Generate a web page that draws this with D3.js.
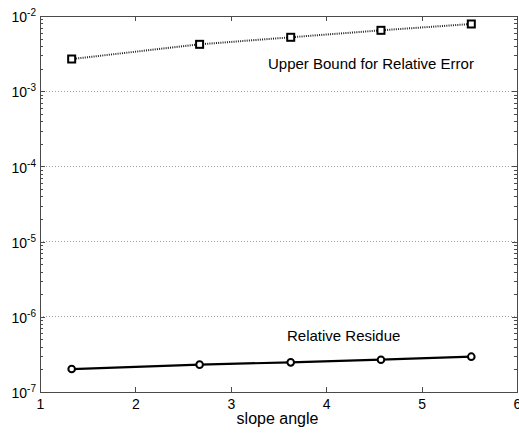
<!DOCTYPE html>
<html>
<head>
<meta charset="utf-8">
<script src="https://cdn.jsdelivr.net/npm/d3@7"></script>
<style>
  html, body { margin: 0; padding: 0; background: #fff; }
  svg { display: block; font-family: "Liberation Sans", Arial, Helvetica, sans-serif; }
</style>
</head>
<body>
<svg id="chart" width="519" height="439"></svg>
<script>
// Slope angle samples
const slopeAngle = [1.332, 2.673, 3.628, 4.574, 5.521];
// Upper bound for the relative error at each slope angle
const upperBound = [2.68e-3, 4.2e-3, 5.21e-3, 6.45e-3, 7.83e-3];
// Relative residue at each slope angle
const relResidue = [2.02e-7, 2.31e-7, 2.48e-7, 2.69e-7, 2.95e-7];
// Axis ticks
const xTicks = [1, 2, 3, 4, 5, 6];
const yExponents = [-7, -6, -5, -4, -3, -2];
const xLabel = "slope angle";
const upperLabel = "Upper Bound for Relative Error";
const residueLabel = "Relative Residue";

const svg = d3.select("#chart");
const plotLeft = 40, plotRight = 517, plotTop = 16, plotBottom = 392;

const x = d3.scaleLinear().domain([1, 6]).range([plotLeft, plotRight]);
const y = d3.scaleLog().domain([1e-7, 1e-2]).range([plotBottom, plotTop]);

const yMajor = yExponents.map(e => Math.pow(10, e));
const yMinor = [];
yExponents.slice(0, -1).forEach(e => {
  for (let m = 2; m <= 9; m++) yMinor.push(m * Math.pow(10, e));
});

const axisColor = "#4a4a4a";

// Horizontal grid at each decade
svg.append("g")
  .selectAll("line")
  .data(yMajor.slice(1, -1))
  .join("line")
  .attr("x1", plotLeft).attr("x2", plotRight)
  .attr("y1", d => y(d)).attr("y2", d => y(d))
  .attr("stroke", "#a0a0a0")
  .attr("stroke-width", 1)
  .attr("stroke-dasharray", "1,2")
  .attr("shape-rendering", "crispEdges");

function styleAxis(g) {
  g.select(".domain").remove();
  g.selectAll(".tick line").attr("stroke", axisColor).attr("shape-rendering", "crispEdges");
}

// Bottom axis with labels
svg.append("g")
  .attr("transform", `translate(0,${plotBottom})`)
  .call(d3.axisBottom(x).tickValues(xTicks).tickSize(-5).tickPadding(7).tickFormat(d3.format("d")))
  .call(styleAxis)
  .call(g => g.selectAll("text").attr("font-size", 14).attr("fill", "#000").attr("font-family", "Liberation Sans, Arial, sans-serif"));

// Top axis, ticks only
svg.append("g")
  .attr("transform", `translate(0,${plotTop})`)
  .call(d3.axisTop(x).tickValues(xTicks).tickSize(-5).tickFormat(""))
  .call(styleAxis);

// Left axis: major decades with power-of-ten labels
const leftAxis = svg.append("g")
  .attr("transform", `translate(${plotLeft},0)`)
  .call(d3.axisLeft(y).tickValues(yMajor).tickSize(-5).tickPadding(4).tickFormat(""))
  .call(styleAxis);

leftAxis.selectAll(".tick").each(function (d) {
  const t = d3.select(this).select("text")
    .attr("font-size", 14)
    .attr("fill", "#000")
    .attr("font-family", "Liberation Sans, Arial, sans-serif")
    .attr("dy", "0.4em");
  t.text(null);
  t.append("tspan").text("10");
  t.append("tspan").attr("font-size", 10).attr("dy", "-0.6em").text(String(Math.round(Math.log10(d))));
});

// Left minor ticks
svg.append("g")
  .attr("transform", `translate(${plotLeft},0)`)
  .call(d3.axisLeft(y).tickValues(yMinor).tickSize(-3).tickFormat(""))
  .call(styleAxis);

// Right axis major + minor ticks
svg.append("g")
  .attr("transform", `translate(${plotRight},0)`)
  .call(d3.axisRight(y).tickValues(yMajor).tickSize(-5).tickFormat(""))
  .call(styleAxis);
svg.append("g")
  .attr("transform", `translate(${plotRight},0)`)
  .call(d3.axisRight(y).tickValues(yMinor).tickSize(-3).tickFormat(""))
  .call(styleAxis);

// Axes box
svg.append("rect")
  .attr("x", plotLeft).attr("y", plotTop)
  .attr("width", plotRight - plotLeft).attr("height", plotBottom - plotTop)
  .attr("fill", "none")
  .attr("stroke", axisColor)
  .attr("stroke-width", 1)
  .attr("shape-rendering", "crispEdges");

const upperData = slopeAngle.map((a, i) => [a, upperBound[i]]);
const residueData = slopeAngle.map((a, i) => [a, relResidue[i]]);
const line = d3.line().x(d => x(d[0])).y(d => y(d[1]));

// Upper bound: dotted line with square markers
svg.append("path")
  .datum(upperData)
  .attr("d", line)
  .attr("fill", "none")
  .attr("stroke", "#222")
  .attr("stroke-width", 2)
  .attr("stroke-dasharray", "1,1.2");

svg.append("g")
  .selectAll("rect")
  .data(upperData)
  .join("rect")
  .attr("x", d => x(d[0]) - 3.5)
  .attr("y", d => y(d[1]) - 3.5)
  .attr("width", 7).attr("height", 7)
  .attr("fill", "#fff")
  .attr("stroke", "#000")
  .attr("stroke-width", 2);

// Relative residue: solid line with circle markers
svg.append("path")
  .datum(residueData)
  .attr("d", line)
  .attr("fill", "none")
  .attr("stroke", "#000")
  .attr("stroke-width", 2.2);

svg.append("g")
  .selectAll("circle")
  .data(residueData)
  .join("circle")
  .attr("cx", d => x(d[0]))
  .attr("cy", d => y(d[1]))
  .attr("r", 3.3)
  .attr("fill", "#fff")
  .attr("stroke", "#000")
  .attr("stroke-width", 2);

// Series annotations
svg.append("text")
  .attr("x", 268).attr("y", 69)
  .attr("font-size", 15)
  .text(upperLabel);

svg.append("text")
  .attr("x", 287).attr("y", 341)
  .attr("font-size", 15)
  .text(residueLabel);

// X axis title
svg.append("text")
  .attr("x", (plotLeft + plotRight) / 2 - 1).attr("y", 424)
  .attr("text-anchor", "middle")
  .attr("font-size", 16)
  .text(xLabel);
</script>
</body>
</html>
